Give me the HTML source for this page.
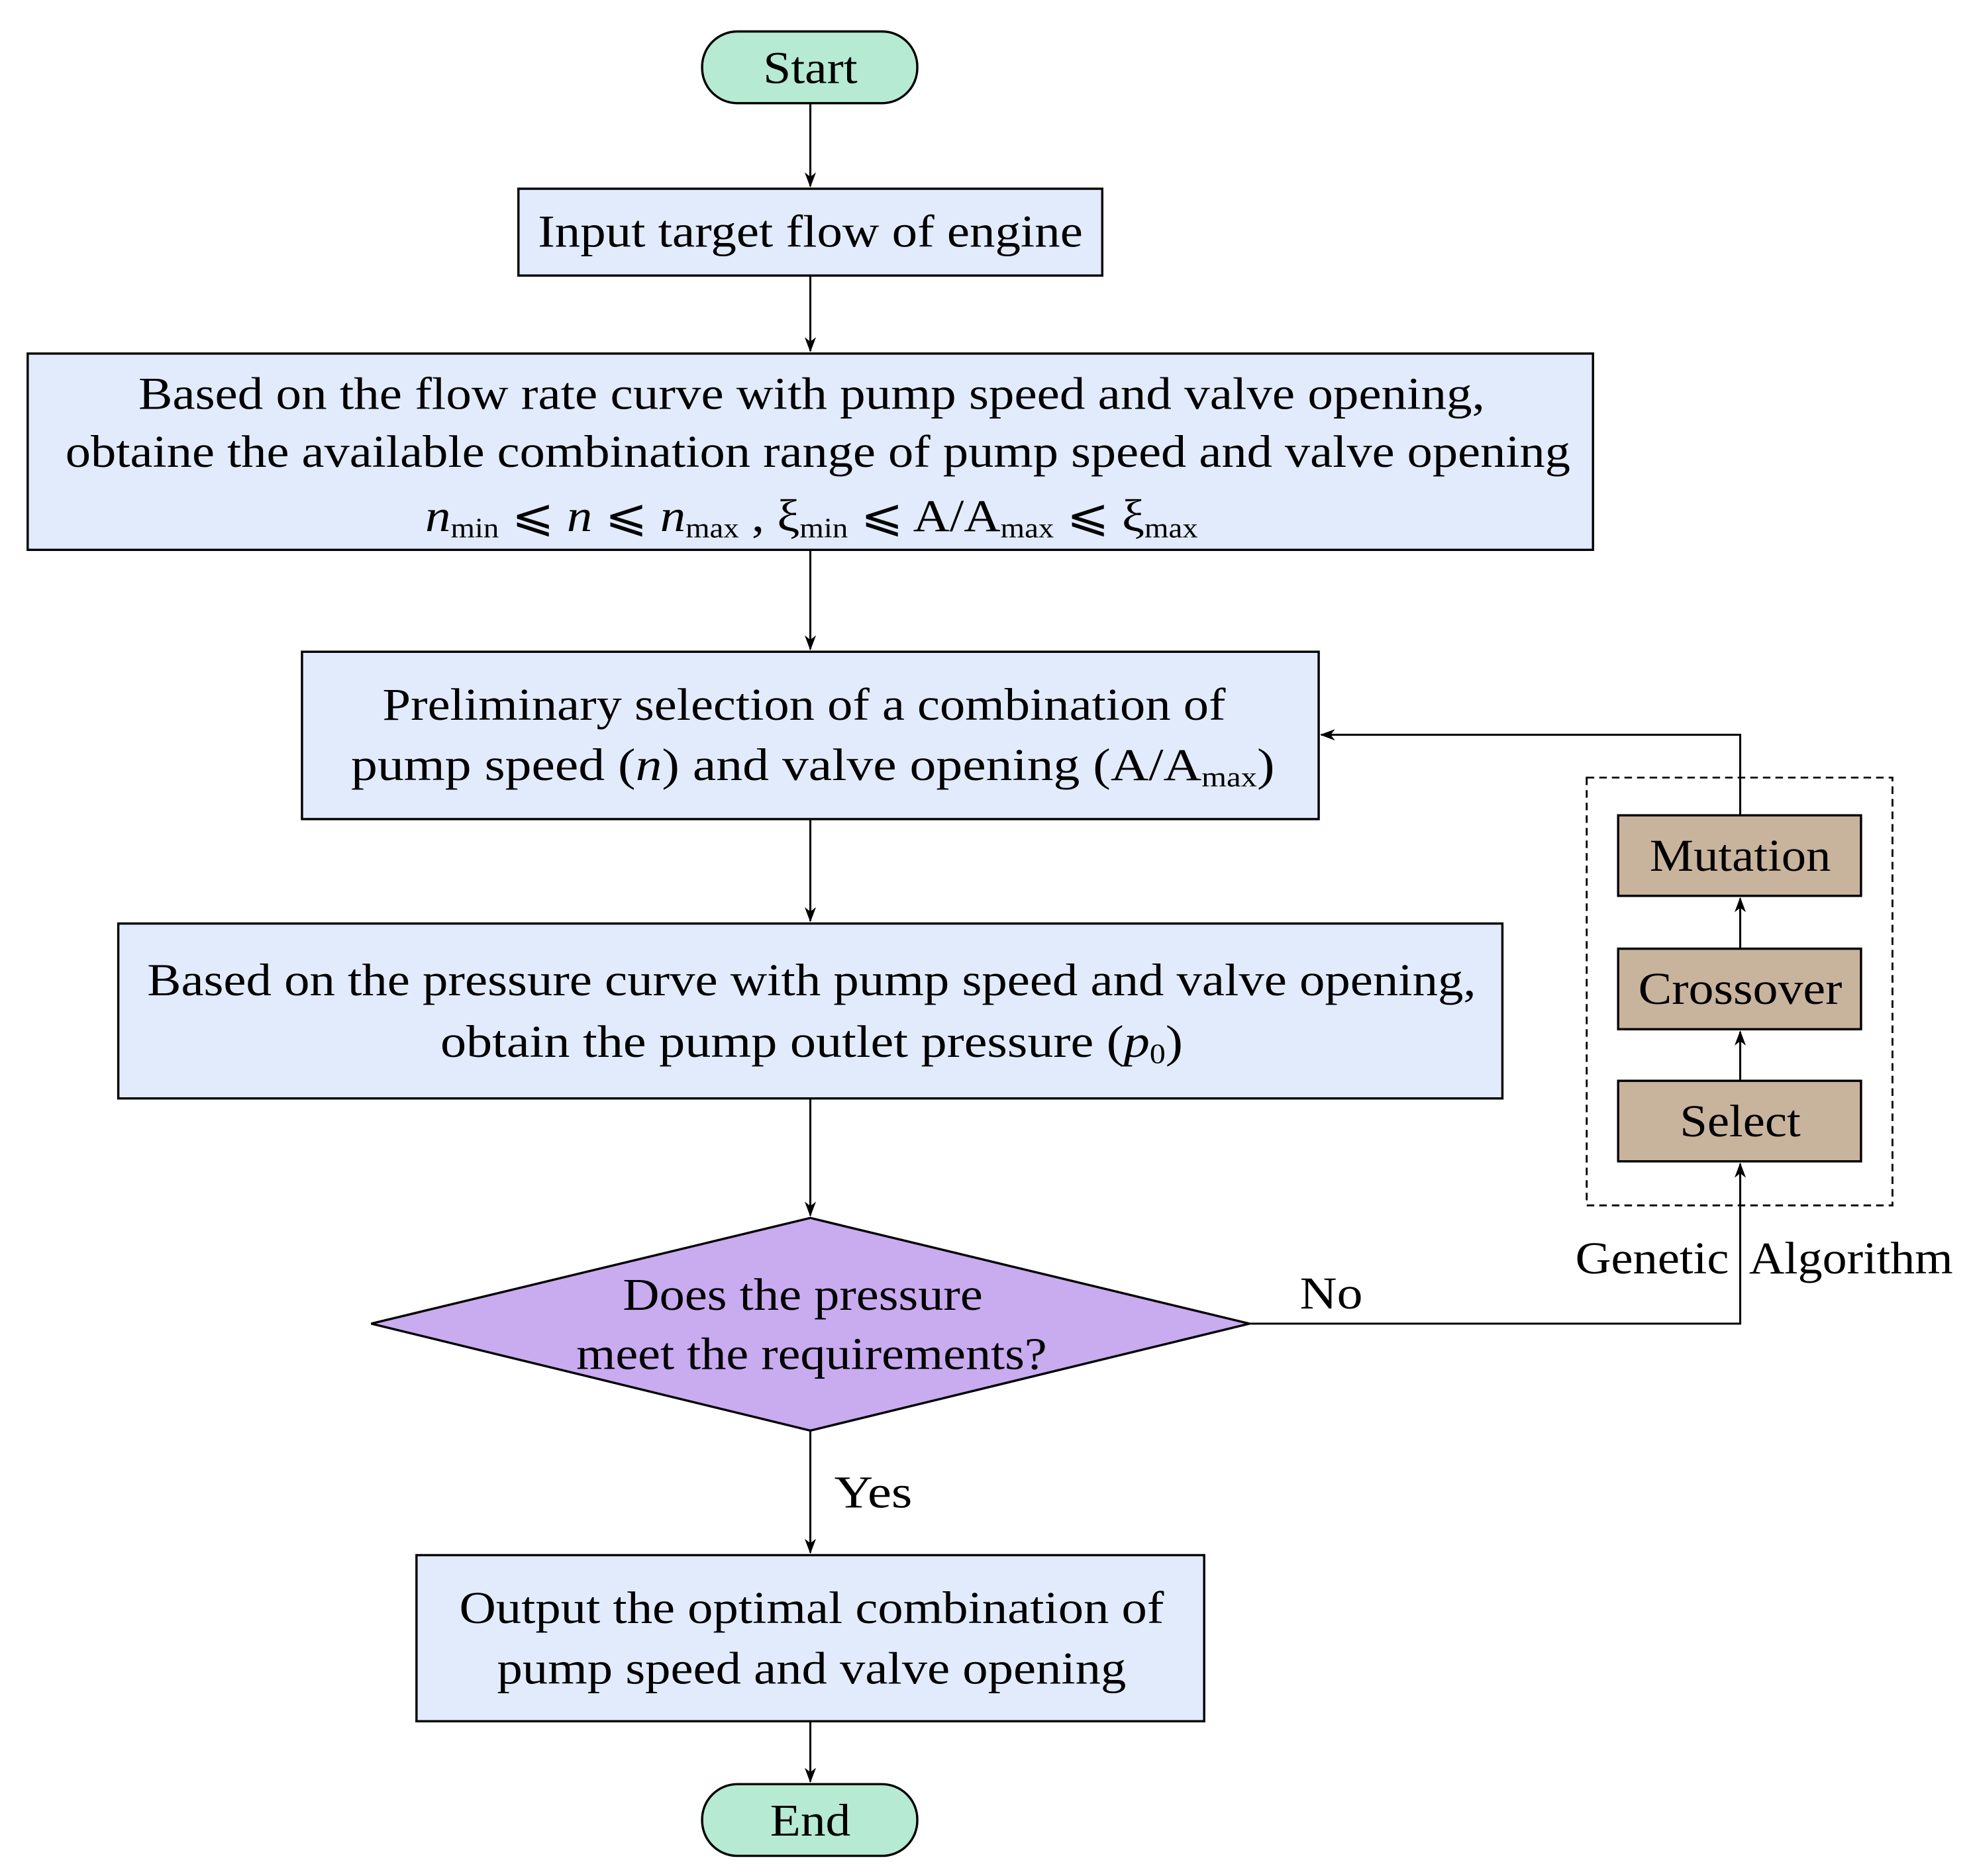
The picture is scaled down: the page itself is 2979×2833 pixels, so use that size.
<!DOCTYPE html>
<html><head><meta charset="utf-8"><style>html,body{margin:0;padding:0;background:#fff}svg{display:block}</style></head>
<body>
<svg width="2979" height="2833" viewBox="0 0 1568 1491" preserveAspectRatio="none" xmlns="http://www.w3.org/2000/svg" font-family="'Liberation Serif', serif" font-size="36" fill="#000">
<defs><marker id="a" markerWidth="12" markerHeight="12" refX="11" refY="6" orient="auto" markerUnits="userSpaceOnUse"><path d="M0,1.5 L12,6 L0,10.5 L3.5,6 Z" fill="#000"/></marker></defs>
<g stroke="#000" stroke-width="1.6" fill="none">
<line x1="644" y1="82" x2="644" y2="148" marker-end="url(#a)"/>
<line x1="644" y1="219" x2="644" y2="279" marker-end="url(#a)"/>
<line x1="644" y1="437" x2="644" y2="516" marker-end="url(#a)"/>
<line x1="644" y1="651" x2="644" y2="732" marker-end="url(#a)"/>
<line x1="644" y1="873" x2="644" y2="966" marker-end="url(#a)"/>
<line x1="644" y1="1137" x2="644" y2="1234" marker-end="url(#a)"/>
<line x1="644" y1="1368" x2="644" y2="1416" marker-end="url(#a)"/>
<polyline points="993,1052 1383,1052 1383,925" marker-end="url(#a)"/>
<line x1="1383" y1="859" x2="1383" y2="820" marker-end="url(#a)"/>
<line x1="1383" y1="754" x2="1383" y2="714" marker-end="url(#a)"/>
<polyline points="1383,648 1383,584 1050,584" marker-end="url(#a)"/>
</g>
<g stroke="#000" stroke-width="1.8">
<rect x="558" y="25" width="171" height="57" rx="28" fill="#b6ead3"/>
<rect x="558" y="1418" width="171" height="57" rx="28" fill="#b6ead3"/>
<rect x="412" y="150" width="464" height="69" fill="#e2ebfb"/>
<rect x="22" y="281" width="1244" height="156" fill="#e2ebfb"/>
<rect x="240" y="518" width="808" height="133" fill="#e2ebfb"/>
<rect x="94" y="734" width="1100" height="139" fill="#e2ebfb"/>
<rect x="331" y="1236" width="626" height="132" fill="#e2ebfb"/>
<polygon points="295,1052 644,968 993,1052 644,1137" fill="#c9abef"/>
<rect x="1286" y="648" width="193" height="64" fill="#c8b39d"/>
<rect x="1286" y="754" width="193" height="64" fill="#c8b39d"/>
<rect x="1286" y="859" width="193" height="64" fill="#c8b39d"/>
</g>
<rect x="1261" y="618" width="243" height="340" fill="none" stroke="#000" stroke-width="1.5" stroke-dasharray="6,4"/>
<g text-anchor="middle">
<text x="644" y="66" textLength="75" lengthAdjust="spacingAndGlyphs">Start</text>
<text x="644" y="1459" textLength="64" lengthAdjust="spacingAndGlyphs">End</text>
<text x="644" y="196" textLength="433" lengthAdjust="spacingAndGlyphs">Input target flow of engine</text>
<text x="645" y="325" textLength="1070" lengthAdjust="spacingAndGlyphs">Based on the flow rate curve with pump speed and valve opening,</text>
<text x="650" y="371" textLength="1196" lengthAdjust="spacingAndGlyphs">obtaine the available combination range of pump speed and valve opening</text>
<text x="639" y="572" textLength="670" lengthAdjust="spacingAndGlyphs">Preliminary selection of a combination of</text>
<text x="645" y="1290" textLength="560" lengthAdjust="spacingAndGlyphs">Output the optimal combination of</text>
<text x="645" y="1338" textLength="500" lengthAdjust="spacingAndGlyphs">pump speed and valve opening</text>
<text x="645" y="791" textLength="1056" lengthAdjust="spacingAndGlyphs">Based on the pressure curve with pump speed and valve opening,</text>
<text x="638" y="1041" textLength="286" lengthAdjust="spacingAndGlyphs">Does the pressure</text>
<text x="645" y="1088" textLength="374" lengthAdjust="spacingAndGlyphs">meet the requirements?</text>
<text x="1383" y="692" textLength="144" lengthAdjust="spacingAndGlyphs">Mutation</text>
<text x="1383" y="798" textLength="162" lengthAdjust="spacingAndGlyphs">Crossover</text>
<text x="1383" y="903" textLength="96" lengthAdjust="spacingAndGlyphs">Select</text>
</g>
<text x="338" y="422" textLength="614" lengthAdjust="spacingAndGlyphs"><tspan font-style="italic">n</tspan><tspan font-size="22" dy="5">min</tspan><tspan dy="-5"> ⩽ </tspan><tspan font-style="italic">n</tspan><tspan> ⩽ </tspan><tspan font-style="italic">n</tspan><tspan font-size="22" dy="5">max</tspan><tspan dy="-5">  ,  ξ</tspan><tspan font-size="22" dy="5">min</tspan><tspan dy="-5"> ⩽ A/A</tspan><tspan font-size="22" dy="5">max</tspan><tspan dy="-5"> ⩽ ξ</tspan><tspan font-size="22" dy="5">max</tspan></text>
<text x="279" y="620" textLength="734" lengthAdjust="spacingAndGlyphs">pump speed  (<tspan font-style="italic">n</tspan>)  and valve opening  (A/A<tspan font-size="22" dy="5">max</tspan><tspan dy="-5">)</tspan></text>
<text x="350" y="840" textLength="590" lengthAdjust="spacingAndGlyphs">obtain the pump outlet pressure  (<tspan font-style="italic">p</tspan><tspan font-size="22" dy="5">0</tspan><tspan dy="-5">)</tspan></text>
<text x="1033" y="1040" textLength="50" lengthAdjust="spacingAndGlyphs">No</text>
<text x="663" y="1198" textLength="62" lengthAdjust="spacingAndGlyphs">Yes</text>
<text x="1252" y="1012" textLength="122" lengthAdjust="spacingAndGlyphs">Genetic</text>
<text x="1390" y="1012" textLength="162" lengthAdjust="spacingAndGlyphs">Algorithm</text>
</svg>
</body></html>
